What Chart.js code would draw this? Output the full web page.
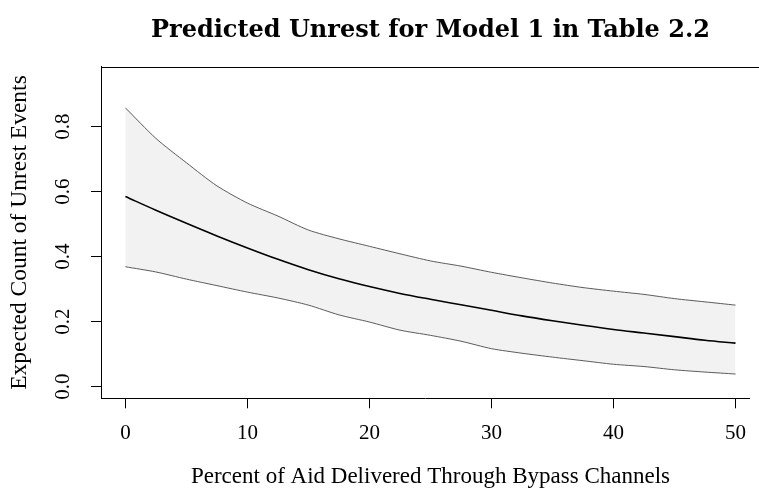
<!DOCTYPE html>
<html>
<head>
<meta charset="utf-8">
<script src="https://cdn.jsdelivr.net/npm/chart.js@4.4.1/dist/chart.umd.min.js"></script>
<style>
  html, body { margin: 0; padding: 0; background: #ffffff; overflow: hidden; }
  canvas { display: block; }
</style>
</head>
<body>
<canvas id="c" width="759" height="489"></canvas>
<script>
// Percent of aid delivered through bypass channels
const pctBypass = [0, 2.5, 5, 7.5, 10, 12.5, 15, 17.5, 20, 22.5, 25,
                   27.5, 30, 32.5, 35, 37.5, 40, 42.5, 45, 47.5, 50];
// Expected count of unrest events (point prediction)
const expectedCount = [0.585, 0.543, 0.503, 0.464, 0.427, 0.392, 0.360, 0.332, 0.308, 0.287, 0.269,
                       0.252, 0.235, 0.218, 0.203, 0.189, 0.176, 0.165, 0.154, 0.143, 0.134];
// Upper and lower bounds of the confidence band
const upperBound = [0.858, 0.764, 0.689, 0.618, 0.565, 0.525, 0.482, 0.455, 0.432, 0.409, 0.387,
                    0.371, 0.352, 0.335, 0.319, 0.305, 0.294, 0.284, 0.271, 0.261, 0.251];
const lowerBound = [0.369, 0.353, 0.331, 0.311, 0.291, 0.273, 0.251, 0.221, 0.199, 0.174, 0.158,
                    0.140, 0.117, 0.103, 0.091, 0.080, 0.069, 0.062, 0.052, 0.045, 0.039];
// Axis ticks
const xTicks = [0, 10, 20, 30, 40, 50];
const yTicks = [0.0, 0.2, 0.4, 0.6, 0.8];

const TITLE = 'Predicted Unrest for Model 1 in Table 2.2';
const X_TITLE = 'Percent of Aid Delivered Through Bypass Channels';
const Y_TITLE = 'Expected Count of Unrest Events';

// Full x extent of the plotting region (the box runs past the canvas edge)
const X_RANGE = [-2, 52];

const SERIF = '"Liberation Serif", "DejaVu Serif", serif';
const SERIF_BOLD = '"DejaVu Serif", "Liberation Serif", serif';

const toPoints = ys => pctBypass.map((x, i) => ({ x: x, y: ys[i] }));

// Box top edge, plot title, x-axis title and rotated y tick labels
const frame = {
  id: 'frame',
  afterDraw(chart) {
    const { ctx, chartArea } = chart;
    const sx = chart.scales.x, sy = chart.scales.y;
    const midX = (sx.getPixelForValue(X_RANGE[0]) + sx.getPixelForValue(X_RANGE[1])) / 2;
    ctx.save();

    const yTop = Math.round(chartArea.top) + 0.5;
    ctx.strokeStyle = '#000';
    ctx.lineWidth = 1;
    ctx.beginPath();
    ctx.moveTo(chartArea.left, yTop);
    ctx.lineTo(chart.width, yTop);
    ctx.stroke();

    ctx.fillStyle = '#000';
    ctx.textAlign = 'center';

    ctx.font = 'bold 24px ' + SERIF_BOLD;
    ctx.textBaseline = 'middle';
    ctx.fillText(TITLE, midX, 31);

    ctx.font = '23px ' + SERIF;
    ctx.textBaseline = 'alphabetic';
    ctx.fillText(X_TITLE, midX, 483);

    ctx.font = '21px ' + SERIF;
    yTicks.forEach(v => {
      ctx.save();
      ctx.translate(69, sy.getPixelForValue(v));
      ctx.rotate(-Math.PI / 2);
      ctx.fillText(v.toFixed(1), 0, 0);
      ctx.restore();
    });
    ctx.restore();
  }
};

new Chart(document.getElementById('c'), {
  type: 'line',
  data: {
    datasets: [
      {
        label: 'Expected count',
        data: toPoints(expectedCount),
        borderColor: '#000000',
        borderWidth: 1.6,
        pointRadius: 0,
        cubicInterpolationMode: 'monotone',
        fill: false
      },
      {
        label: 'Upper bound',
        data: toPoints(upperBound),
        borderColor: '#4a4a4a',
        borderWidth: 0.9,
        pointRadius: 0,
        tension: 0.25,
        fill: false
      },
      {
        label: 'Lower bound',
        data: toPoints(lowerBound),
        borderColor: '#4a4a4a',
        borderWidth: 0.9,
        pointRadius: 0,
        tension: 0.25,
        backgroundColor: '#f2f2f2',
        fill: '-1'
      }
    ]
  },
  options: {
    responsive: false,
    animation: false,
    layout: { padding: { top: 66.7, left: 0, right: 0, bottom: 0 } },
    plugins: {
      legend: { display: false },
      tooltip: { enabled: false },
      filler: { drawTime: 'beforeDatasetsDraw' },
      title: { display: false }
    },
    scales: {
      x: {
        type: 'linear',
        min: -2,
        max: 51.13,
        afterBuildTicks: s => { s.ticks = xTicks.map(v => ({ value: v })); },
        afterFit: s => { s.height = 90.7; },
        grid: { drawOnChartArea: false, drawTicks: true, tickLength: 10, color: '#000', lineWidth: 1 },
        border: { display: true, color: '#000', width: 1 },
        ticks: {
          color: '#000',
          font: { family: SERIF, size: 21 },
          padding: 13,
          maxRotation: 0,
          callback: v => String(v)
        }
      },
      y: {
        type: 'linear',
        min: -0.0357,
        max: 0.9846,
        afterBuildTicks: s => { s.ticks = yTicks.map(v => ({ value: v })); },
        afterFit: s => { s.width = 101; },
        grid: { drawOnChartArea: false, drawTicks: true, tickLength: 10, color: '#000', lineWidth: 1 },
        border: { display: true, color: '#000', width: 1 },
        ticks: { display: false },
        title: {
          display: true,
          text: Y_TITLE,
          color: '#000',
          font: { family: SERIF, size: 23.5 },
          padding: { top: 6.2, bottom: 0 }
        }
      }
    }
  },
  plugins: [frame]
});
</script>
</body>
</html>
